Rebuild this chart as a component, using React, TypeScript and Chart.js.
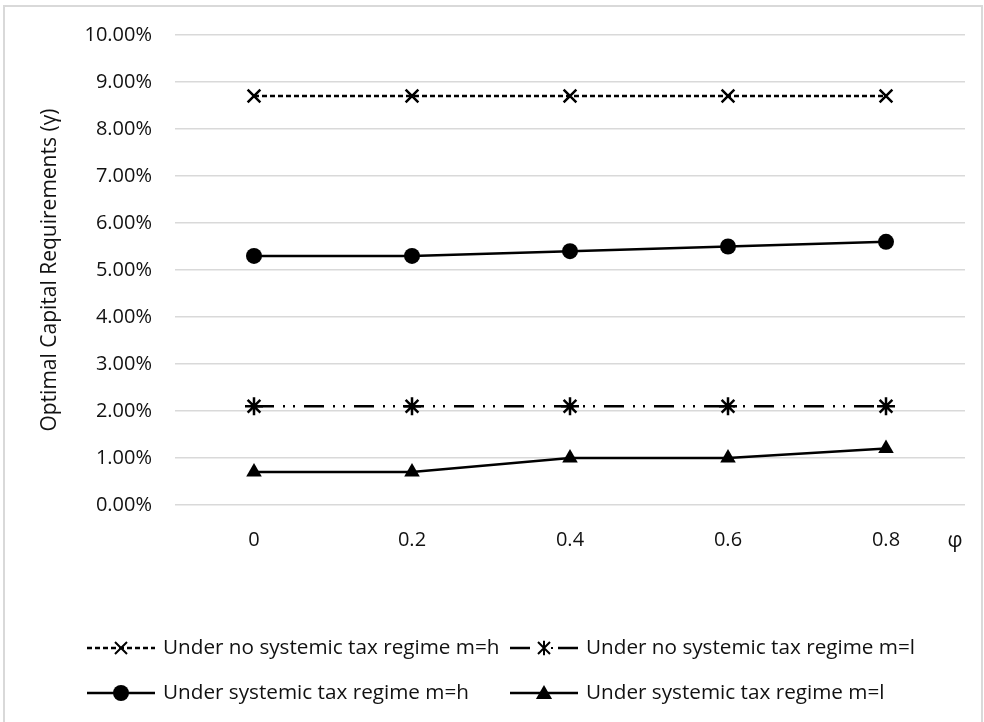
import React, { useEffect, useRef } from "react";
import { Chart, registerables } from "chart.js";

Chart.register(...registerables);

const categories = ["0", "0.2", "0.4", "0.6", "0.8"];
const noTaxHigh = [8.7, 8.7, 8.7, 8.7, 8.7];
const noTaxLow = [2.1, 2.1, 2.1, 2.1, 2.1];
const taxHigh = [5.3, 5.3, 5.4, 5.5, 5.6];
const taxLow = [0.7, 0.7, 1.0, 1.0, 1.2];
const seriesLabels = [
  "Under no systemic tax regime m=h",
  "Under no systemic tax regime m=l",
  "Under systemic tax regime m=h",
  "Under systemic tax regime m=l",
];
const yTitle = "Optimal Capital Requirements (\u03b3)";
const xTitle = "\u03c6";

const FONT = "'Open Sans', 'Noto Sans', sans-serif";
const TEXT = "#111";

const dashNoTaxHigh = [5, 3];
const dashNoTaxLow = [20, 9, 2, 8, 2, 9];

function drawMarker(ctx: CanvasRenderingContext2D, style: string, x: number, y: number, r: number) {
  ctx.save();
  ctx.setLineDash([]);
  ctx.fillStyle = "#000";
  ctx.strokeStyle = "#000";
  ctx.lineWidth = 2;
  ctx.beginPath();
  if (style === "crossRot") {
    ctx.moveTo(x - r, y - r);
    ctx.lineTo(x + r, y + r);
    ctx.moveTo(x - r, y + r);
    ctx.lineTo(x + r, y - r);
    ctx.stroke();
  } else if (style === "star") {
    ctx.moveTo(x - r, y - r);
    ctx.lineTo(x + r, y + r);
    ctx.moveTo(x - r, y + r);
    ctx.lineTo(x + r, y - r);
    ctx.moveTo(x, y - r * 1.2);
    ctx.lineTo(x, y + r * 1.2);
    ctx.stroke();
  } else if (style === "circle") {
    ctx.arc(x, y, r, 0, Math.PI * 2);
    ctx.fill();
  } else if (style === "triangle") {
    const h = r * 1.5;
    ctx.moveTo(x, y - h * 0.6);
    ctx.lineTo(x + r * 0.9, y + h * 0.45);
    ctx.lineTo(x - r * 0.9, y + h * 0.45);
    ctx.closePath();
    ctx.fill();
  }
  ctx.restore();
}

const extrasPlugin = {
  id: "extras",
  afterDraw(chart: any) {
    const ctx: CanvasRenderingContext2D = chart.ctx;
    const area = chart.chartArea;
    ctx.save();
    // y title
    ctx.fillStyle = TEXT;
    ctx.font = `21px ${FONT}`;
    ctx.textAlign = "center";
    ctx.textBaseline = "middle";
    ctx.save();
    ctx.translate(50, (area.top + area.bottom) / 2);
    ctx.rotate(-Math.PI / 2);
    ctx.fillText(yTitle, 0, 0);
    ctx.restore();
    // x title
    ctx.font = `21px ${FONT}`;
    ctx.fillText(xTitle, 955, area.bottom + 36);

    // legend
    const items = [
      { x: 87, y: 648, style: "crossRot", r: 6, dash: dashNoTaxHigh, label: seriesLabels[0] },
      { x: 510, y: 648, style: "star", r: 6, dash: null, label: seriesLabels[1] },
      { x: 87, y: 693, style: "circle", r: 8, dash: [], label: seriesLabels[2] },
      { x: 510, y: 693, style: "triangle", r: 9, dash: [], label: seriesLabels[3] },
    ];
    ctx.font = `20.7px ${FONT}`;
    ctx.textAlign = "left";
    ctx.textBaseline = "middle";
    for (const it of items) {
      const w = 68;
      ctx.strokeStyle = "#000";
      ctx.lineWidth = 2.5;
      if (it.dash === null) {
        ctx.setLineDash([]);
        ctx.beginPath();
        ctx.moveTo(it.x, it.y);
        ctx.lineTo(it.x + 20, it.y);
        ctx.moveTo(it.x + w - 20, it.y);
        ctx.lineTo(it.x + w, it.y);
        ctx.stroke();
        ctx.fillStyle = "#000";
        ctx.fillRect(it.x + w / 2 + 7, it.y - 1, 2, 2);
      } else {
        ctx.setLineDash(it.dash);
        ctx.beginPath();
        ctx.moveTo(it.x, it.y);
        ctx.lineTo(it.x + w, it.y);
        ctx.stroke();
      }
      ctx.setLineDash([]);
      drawMarker(ctx, it.style, it.x + w / 2, it.y, it.r);
      ctx.fillStyle = TEXT;
      ctx.fillText(it.label, it.x + w + 8, it.y);
    }
    ctx.restore();
  },
};

export default function App() {
  const ref = useRef<HTMLCanvasElement | null>(null);
  useEffect(() => {
    if (!ref.current) return;
    const chart = new Chart(ref.current, {
      type: "line",
      data: {
        labels: categories,
        datasets: [
          {
            label: seriesLabels[0],
            data: noTaxHigh,
            borderColor: "#000",
            backgroundColor: "#000",
            borderWidth: 2.5,
            borderDash: dashNoTaxHigh,
            pointStyle: "crossRot",
            pointRadius: 9,
            pointBorderWidth: 2.5,
            pointBorderColor: "#000",
          },
          {
            label: seriesLabels[1],
            data: noTaxLow,
            borderColor: "#000",
            backgroundColor: "#000",
            borderWidth: 2.5,
            borderDash: dashNoTaxLow,
            pointStyle: "star",
            pointRadius: 9,
            pointBorderWidth: 2.5,
            pointBorderColor: "#000",
          },
          {
            label: seriesLabels[2],
            data: taxHigh,
            borderColor: "#000",
            backgroundColor: "#000",
            borderWidth: 2.5,
            pointStyle: "circle",
            pointRadius: 8,
            pointBorderWidth: 0,
            pointBackgroundColor: "#000",
          },
          {
            label: seriesLabels[3],
            data: taxLow,
            borderColor: "#000",
            backgroundColor: "#000",
            borderWidth: 2.5,
            pointStyle: "triangle",
            pointRadius: 9,
            pointBorderWidth: 0,
            pointBackgroundColor: "#000",
          },
        ],
      },
      options: {
        responsive: false,
        animation: false,
        events: [],
        layout: { padding: { top: 35, right: 19, left: 0, bottom: 0 } },
        plugins: { legend: { display: false }, tooltip: { enabled: false }, title: { display: false } },
        scales: {
          x: {
            type: "category",
            offset: true,
            grid: { display: false, drawTicks: false },
            border: { display: false },
            ticks: { color: TEXT, font: { family: FONT, size: 20 }, padding: 23, maxRotation: 0 },
            afterFit: (s: any) => {
              s.height = 217;
            },
          },
          y: {
            min: 0,
            max: 10,
            grid: { color: "#d9d9d9", lineWidth: 1.5, drawTicks: false },
            border: { display: false },
            ticks: {
              stepSize: 1,
              color: TEXT,
              font: { family: FONT, size: 20 },
              padding: 23,
              callback: (v: any) => Number(v).toFixed(2) + "%",
            },
            afterFit: (s: any) => {
              s.width = 175;
            },
          },
        },
      },
      plugins: [extrasPlugin],
    });
    return () => chart.destroy();
  }, []);

  return (
    <div
      style={{
        position: "fixed",
        left: 0,
        top: 0,
        width: 984,
        height: 722,
        overflow: "hidden",
        background: "#fff",
      }}
    >
      <div
        style={{
          position: "absolute",
          left: 3,
          top: 5,
          width: 976,
          height: 800,
          border: "2px solid #d9d9d9",
        }}
      />
      <canvas ref={ref} width={984} height={722} style={{ position: "absolute", left: 0, top: 0 }} />
    </div>
  );
}
